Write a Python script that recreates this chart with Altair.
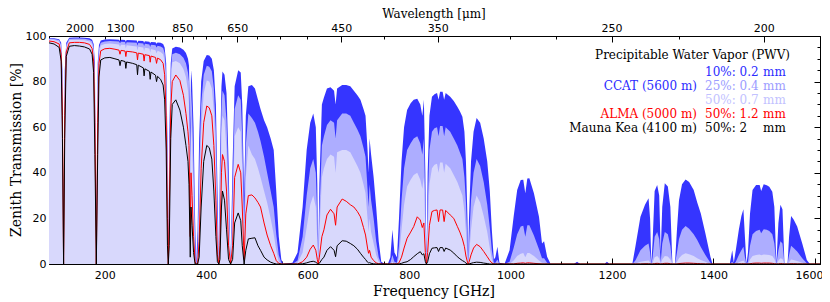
import altair as alt
import pandas as pd

# ---------------- data ----------------
freq = [
    90, 100, 110, 114, 116.5, 118.75, 121, 124, 130, 140, 150, 160, 170, 175, 178, 180.5, 183.3, 186, 188.5, 192,
    200, 210, 220, 228, 230, 232, 240, 241.5, 243, 255, 263, 264.5, 266, 276, 277.5, 279, 288, 289.5, 291, 300,
    302, 304, 310, 315, 318, 321, 323.5, 325.2, 327, 330,
    333, 340, 348, 355, 360, 364, 366, 368.5, 370, 372, 375, 378, 380.2, 383, 386, 390, 395, 401, 406, 411,
    415, 419, 422, 424.8, 427, 430, 432, 436, 440, 444, 448, 452, 456, 463, 468, 471, 474.7, 478, 483, 490,
    496, 502, 507, 514, 520, 527, 533, 538, 543, 548, 552,
    570, 580, 590, 598, 605, 611, 616, 619, 620.7, 623, 628, 632, 638, 645, 652, 655, 658, 668, 676, 684,
    691, 698, 704, 710, 714, 718, 720, 722, 725, 730, 735, 740, 745, 752,
    758, 763, 767, 771, 776, 780, 785, 790, 796, 803, 809, 816, 822, 826, 829, 832, 834.1, 836.5, 840, 845,
    850, 855, 858, 861, 866, 869, 872, 881, 888, 895, 900, 905, 909, 912, 915, 916.2, 918, 922, 927, 933,
    940, 947, 954, 959, 963, 967, 970, 974, 978, 988,
    998, 1006, 1013, 1020, 1025, 1029, 1033, 1037, 1046, 1056, 1062, 1066, 1072, 1079, 1125, 1131, 1137, 1185, 1190, 1195,
    1240,
    1246, 1256, 1265, 1272, 1275, 1277.5, 1280, 1284, 1289, 1293, 1296, 1299, 1304, 1310, 1315, 1319, 1324, 1328, 1332, 1338,
    1345, 1352, 1361, 1368, 1375, 1384, 1394, 1398, 1432,
    1437, 1440, 1444, 1450, 1455, 1459, 1462, 1465, 1468, 1472, 1477, 1484, 1491, 1494, 1499, 1505, 1510, 1516, 1520, 1524,
    1528, 1532, 1536, 1540, 1546, 1549, 1553, 1558, 1565, 1575, 1584, 1590, 1610,
]

pwv02 = [
    99.0, 99.0, 98.6, 97.0, 85, 0, 85, 97, 99.2, 99.3, 99.3, 99.2, 99.0, 98.4, 96.5, 88, 0, 88, 96, 98.0,
    98.5, 98.6, 98.5, 98.4, 97.8, 98.4, 98.3, 97.5, 98.2, 98.1, 98.0, 97.0, 97.9, 97.8, 97.0, 97.7, 97.5, 96.8, 97.4, 97.3,
    96.6, 97.2, 97.0, 96.5, 95.0, 88, 55, 0, 55, 88,
    94.5, 95.3, 95.0, 94.0, 92.5, 90.0, 87, 60, 85, 80, 60, 20, 0, 15, 55, 80, 89, 91.7, 91.5, 90.0,
    85, 70, 35, 0, 45, 78, 84.4, 83, 75, 45, 0, 45, 78, 85, 84, 70, 30, 65, 78, 78.5,
    77, 72, 68, 63, 60, 55, 50, 32, 12, 2, 0,
    0.5, 5, 25, 50, 62, 66, 60, 35, 0, 35, 70, 73, 77, 77.5, 76, 70, 77, 78.5, 78.5, 78,
    76, 74, 72, 68, 65, 50, 40, 55, 48, 38, 25, 10, 1, 0,
    0, 3, 15, 5, 3, 20, 45, 60, 67.5, 70.5, 72, 72.5, 70, 65, 72, 40, 0, 40, 65, 73.4,
    74.5, 75, 72, 75.5, 75.5, 72, 75, 73.4, 71.5, 69, 67, 64.6, 58, 45, 20, 0, 20, 45, 58, 64,
    62, 55, 45, 32, 15, 2, 3, 7.6, 0.5, 0,
    6, 20.7, 32.5, 36.8, 37, 31, 37.5, 37.6, 31, 20.7, 9, 10, 3.2, 0, 0, 1, 0, 0, 1, 0,
    0,
    7.6, 20.7, 26, 28.8, 20, 0, 10, 32, 34.6, 30, 5, 25, 35.4, 34, 25, 0, 0, 15, 28, 35,
    37.1, 36, 32.5, 27, 22.2, 13.5, 3.2, 0, 0,
    6, 0.5, 6, 15, 21, 24, 12, 0, 5, 22, 32.5, 34.6, 34.6, 32, 35, 34.5, 33.9, 31.7, 25, 0,
    18, 26, 24, 0, 0, 12, 21, 19.5, 16.4, 9, 1.8, 0, 0,
]

pwv04 = [
    98.8, 98.7, 98.2, 96.0, 80, 0, 80, 96, 98.8, 98.9, 98.9, 98.8, 98.4, 97.6, 95.0, 83, 0, 83, 94.5, 97.0,
    97.6, 97.8, 97.7, 97.6, 96.8, 97.5, 97.4, 96.3, 97.3, 97.1, 97.0, 95.7, 96.9, 96.7, 95.6, 96.6, 96.3, 95.2, 96.2, 95.9,
    95.0, 95.7, 95.4, 94.7, 92.5, 83, 45, 0, 45, 84,
    92.0, 92.6, 92.0, 90.5, 88.0, 84.0, 80, 45, 76, 68, 45, 8, 0, 5, 40, 70, 83, 87.0, 86.5, 84.5,
    77, 58, 22, 0, 32, 68, 76, 74, 63, 32, 0, 32, 68, 74, 72, 56, 18, 52, 66, 64,
    62, 58, 54, 47, 40, 32, 25, 13, 4, 0.5, 0,
    0, 1.5, 12, 30, 42, 46, 40, 20, 0, 22, 52, 56, 61, 63, 62, 55, 63, 66, 66, 65,
    62, 59, 56, 51, 47, 33, 25, 35, 28, 20, 10, 3, 0, 0,
    0, 0.5, 4, 1, 0.5, 8, 28, 42, 50, 53, 55, 56, 53, 48, 55, 25, 0, 25, 50, 58,
    59.5, 60, 56, 60.5, 60.5, 56, 60, 58, 55, 52, 49, 46, 38, 27, 9, 0, 9, 28, 40, 46,
    43, 36, 26, 16, 6, 0.5, 0.5, 2, 0, 0,
    1, 7, 13, 16.5, 16.8, 12, 17, 17, 12.5, 6.5, 2.5, 2.5, 0.5, 0, 0, 0, 0, 0, 0, 0,
    0,
    1.5, 6, 8, 9, 5, 0, 3, 12, 14, 11, 1, 9, 14, 13, 8, 0, 0, 5, 11, 15,
    16.7, 15.5, 13, 10.5, 7.5, 4, 0.5, 0, 0,
    1, 0, 1, 4, 6, 7.6, 3, 0, 1, 8, 13, 14.5, 15, 13.5, 15.2, 15, 14.5, 13, 9, 0,
    6, 10, 9, 0, 0, 4, 8, 7, 5.5, 2.5, 0.3, 0, 0,
]

pwv07 = [
    98.5, 98.3, 97.6, 94.5, 75, 0, 75, 95, 98.2, 98.3, 98.3, 98.1, 97.6, 96.5, 93.0, 75, 0, 75, 92, 95.8,
    96.5, 96.7, 96.5, 96.3, 95.3, 96.2, 96.0, 94.5, 95.9, 95.6, 95.4, 93.6, 95.3, 95.0, 93.3, 94.9, 94.5, 92.8, 94.3, 93.8,
    92.3, 93.5, 93.0, 92.0, 89.0, 76, 35, 0, 35, 78,
    88.5, 89.0, 88.0, 85.5, 82.0, 76.0, 70, 30, 64, 54, 30, 2, 0, 1, 25, 58, 75, 80.5, 80.0, 77.0,
    67, 45, 12, 0, 20, 57, 65, 63, 50, 20, 0, 20, 56, 60, 58, 42, 8, 38, 52, 48,
    46, 42, 38, 32, 27, 20, 13, 6, 1, 0, 0,
    0, 0.5, 5, 16, 26, 30, 25, 10, 0, 12, 38, 42, 46, 48, 47, 40, 49, 50, 50, 49,
    46, 43, 40, 35, 31, 20, 14, 20, 14, 9, 4, 1, 0, 0,
    0, 0, 1, 0, 0, 3, 15, 26, 34, 37, 39, 40, 37, 33, 38, 14, 0, 14, 35, 42,
    43.5, 44, 40, 44.5, 44.5, 40, 44, 42, 39, 36, 33, 30, 23, 14, 3, 0, 3, 15, 25, 30,
    27, 21, 14, 7, 2, 0, 0, 0.5, 0, 0,
    0, 1.5, 3.5, 4.5, 4.8, 3, 4.8, 4.8, 3.5, 1.5, 0.5, 0.5, 0, 0, 0, 0, 0, 0, 0, 0,
    0,
    0.2, 1, 1.3, 1.5, 0.8, 0, 0.5, 3, 3.5, 2.5, 0, 2, 3.5, 3.3, 2, 0, 0, 1, 2.5, 4,
    4.7, 4.3, 3.5, 2.5, 1.8, 1, 0, 0, 0,
    0, 0, 0, 0.8, 1.2, 1.5, 0.5, 0, 0, 2, 3.5, 4, 4.2, 3.8, 4.2, 4.1, 4, 3.5, 2.2, 0,
    1.5, 2.5, 2.2, 0, 0, 0.8, 2, 1.7, 1.3, 0.5, 0, 0, 0,
]

pwv12 = [
    97.8, 97.5, 96.5, 92.0, 65, 0, 65, 93, 97.0, 97.2, 97.2, 97.0, 96.3, 94.5, 89.0, 62, 0, 62, 88, 93.5,
    94.4, 94.6, 94.2, 93.8, 92.0, 93.7, 93.4, 91.0, 93.3, 93.0, 92.6, 89.5, 92.5, 92.0, 89.0, 91.8, 91.4, 88.5, 91.2, 90.6,
    88.0, 90.3, 89.6, 88.0, 83.0, 65, 20, 0, 20, 68,
    80.0, 82.9, 80.5, 74.0, 66.0, 58.0, 52, 12, 40, 30, 12, 1, 0, 0, 10, 42, 62, 69.3, 68.5, 65.0,
    52, 28, 4, 0, 8, 40, 48, 45, 32, 8, 0, 8, 38, 43.7, 40, 25, 2, 22, 30, 30.3,
    29, 27, 25, 18, 12.7, 8, 4.7, 1.5, 0.3, 0, 0,
    0, 0, 1, 3, 6.5, 8.3, 6, 2, 0, 3, 12, 15, 21.5, 24, 22, 17, 25, 28.5, 27.5, 26,
    25, 23, 20.7, 16, 12.7, 7, 4.7, 6, 3, 1.5, 0.5, 0.1, 0, 0,
    0, 0, 0, 0, 0, 0.5, 3, 7, 11.3, 14, 16.4, 20.7, 19.3, 16, 18, 5, 0, 5, 17, 23,
    23.5, 23.7, 18.6, 23.7, 23.7, 18.6, 23.5, 21.5, 20, 16.5, 14, 11, 7.6, 3.5, 0.8, 0, 0.8, 4, 7, 8.6,
    7.6, 5.5, 3.2, 1.5, 0.5, 0, 0, 0, 0, 0,
    0, 0, 0.3, 0.4, 0.5, 0.3, 0.5, 0.5, 0.3, 0.1, 0, 0, 0, 0, 0, 0, 0, 0, 0, 0,
    0,
    0, 0, 0.1, 0.1, 0, 0, 0, 0.2, 0.3, 0.2, 0, 0.1, 0.3, 0.3, 0.1, 0, 0, 0, 0.2, 0.3,
    0.4, 0.4, 0.3, 0.2, 0.1, 0, 0, 0, 0,
    0, 0, 0, 0, 0, 0.1, 0, 0, 0, 0.1, 0.3, 0.4, 0.4, 0.3, 0.4, 0.4, 0.4, 0.3, 0.1, 0,
    0, 0.2, 0.1, 0, 0, 0, 0.1, 0.1, 0, 0, 0, 0, 0,
]

pwv20 = [
    97.0, 96.5, 95.0, 89.0, 55, 0, 55, 91, 95.5, 95.8, 95.6, 95.2, 94.3, 92.0, 84.0, 48, 0, 48, 82, 89.5,
    90.4, 90.6, 90.0, 89.5, 87.0, 89.3, 88.8, 85.8, 88.6, 88.0, 87.4, 83.0, 87.2, 86.0, 82.5, 85.6, 84.5, 81.0, 84.2, 82.8,
    80.0, 82.3, 81.0, 78.5, 72.0, 50, 8, 0, 8, 55,
    70.0, 72.0, 67.5, 60.0, 52.0, 45.0, 35, 3, 25, 17, 5, 0, 0, 0, 3, 25, 45, 52.0, 51.0, 46.0,
    32, 12, 1, 0, 2, 25, 32, 28, 15, 2, 0, 2, 18, 22.4, 19, 8, 0, 6, 11, 11.3,
    11.5, 8, 6, 3, 1.8, 0.8, 0.3, 0, 0, 0, 0,
    0, 0, 0.1, 0.5, 1, 1.2, 0.8, 0.2, 0, 0.3, 2, 3, 6, 7.6, 6, 3.2, 8, 10.2, 10, 9,
    8, 6.5, 4.7, 3, 2, 0.8, 0.5, 0.6, 0.3, 0.1, 0, 0, 0, 0,
    0, 0, 0, 0, 0, 0, 0.3, 0.7, 1, 2, 3.2, 4.5, 5.4, 4, 4.5, 1, 0, 1, 4.5, 6.9,
    7.1, 7.2, 5.5, 7.2, 7.2, 5.5, 7.0, 6.1, 4.8, 3.2, 2.3, 1.5, 1, 0.4, 0, 0, 0, 0.3, 0.6, 0.8,
    0.7, 0.4, 0.2, 0, 0, 0, 0, 0, 0, 0,
    0, 0, 0, 0, 0, 0, 0, 0, 0, 0, 0, 0, 0, 0, 0, 0, 0, 0, 0, 0,
    0,
    0, 0, 0, 0, 0, 0, 0, 0, 0, 0, 0, 0, 0, 0, 0, 0, 0, 0, 0, 0,
    0, 0, 0, 0, 0, 0, 0, 0, 0,
    0, 0, 0, 0, 0, 0, 0, 0, 0, 0, 0, 0, 0, 0, 0, 0, 0, 0, 0, 0,
    0, 0, 0, 0, 0, 0, 0, 0, 0, 0, 0, 0, 0,
]

# axis tick values
bottom_major = [200, 400, 600, 800, 1000, 1200, 1400, 1600]
bottom_minor = list(range(100, 1601, 50))
left_major = [0, 20, 40, 60, 80, 100]
left_minor = list(range(0, 101, 5))
top_major_um = [2000, 1300, 850, 650, 450, 350, 250, 200]
top_minor_um = [1500, 1000, 900, 800, 750, 700, 600, 550, 500, 400, 300, 275, 225]

C_UM_GHZ = 299792.458
top_major = [C_UM_GHZ / w for w in top_major_um]
top_minor = [C_UM_GHZ / w for w in top_minor_um]

df = pd.DataFrame({"f": freq, "p02": pwv02, "p04": pwv04, "p07": pwv07,
                   "p12": pwv12, "p20": pwv20})

XD = [90, 1610]
YD = [0, 100]


def ax(orient, values, size, labels=False, pad=4, expr=None, **extra):
    kw = dict(orient=orient, values=values, tickSize=size, offset=-size,
              labels=labels, domain=False, grid=False, ticks=True,
              tickColor="black", tickWidth=1, title=None)
    if labels:
        kw.update(labelFont="DejaVu Sans", labelFontSize=11, labelColor="black",
                  labelPadding=pad, labelFlush=False, labelOverlap=False,
                  labelBound=False, format="d")
    if expr:
        kw["labelExpr"] = expr
    kw.update(extra)
    return alt.Axis(**kw)


def X(axis):
    return alt.X("f:Q", scale=alt.Scale(domain=XD, nice=False, zero=False), axis=axis)


def Y(field, axis):
    return alt.Y(field + ":Q", scale=alt.Scale(domain=YD, nice=False, zero=False), axis=axis)


base = alt.Chart(df)

a02 = base.mark_area(color="#3535ff", clip=True).encode(
    x=X(ax("bottom", bottom_major, 6, True, 5,
           labelOffset={"condition": {"test": "datum.value == 1600", "value": -6}, "value": 0})),
    y=Y("p02", ax("left", left_major, 6, True, 3)))
a04 = base.mark_area(color="#adadff", clip=True).encode(
    x=X(ax("bottom", bottom_minor, 3)),
    y=Y("p04", ax("left", left_minor, 3)))
a07 = base.mark_area(color="#d8d8fc", clip=True).encode(
    x=X(ax("top", top_major, 6, True, 3, "format(299792.458/datum.value, '.0f')")),
    y=Y("p07", ax("right", left_major, 6)))
l12 = base.mark_line(color="#ff0000", strokeWidth=1, clip=True).encode(
    x=X(ax("top", top_minor, 3)),
    y=Y("p12", ax("right", left_minor, 3)))
l20 = base.mark_line(color="black", strokeWidth=1, clip=True).encode(
    x=X(None), y=Y("p20", None))


def label(s, x, y, color="black", align="left", size=12, baseline="middle", angle=0):
    return alt.Chart(pd.DataFrame({"s": [s]})).mark_text(
        align=align, baseline=baseline, font="DejaVu Serif", fontSize=size,
        color=color, angle=angle).encode(x=alt.value(x), y=alt.value(y), text="s:N")


BLUE, MID, LIGHT, RED = "#2b2bff", "#9c9cff", "#c2c2ff", "#ff0000"
texts = [
    label("Precipitable Water Vapor (PWV)", 741, 19, align="right"),
    label("10%: 0.2", 656, 36.3, BLUE), label("mm", 714, 36.3, BLUE),
    label("CCAT (5600 m)", 648, 50, BLUE, align="right"),
    label("25%: 0.4", 656, 50, MID), label("mm", 714, 50, MID),
    label("50%: 0.7", 656, 64, LIGHT), label("mm", 714, 64, LIGHT),
    label("ALMA (5000 m)", 648, 78, RED, align="right"),
    label("50%: 1.2", 656, 78, RED), label("mm", 714, 78, RED),
    label("Mauna Kea (4100 m)", 648, 92.3, align="right"),
    label("50%: 2", 656, 92.3), label("mm", 714, 92.3),
    label("Wavelength [μm]", 385, -27.5, size=12, align="center", baseline="top"),
    label("Frequency [GHz]", 385, 256, size=14, align="center"),
    label("Zenith Transmission [%]", -32, 114, size=14, align="center", angle=270),
]

chart = alt.layer(a02, a04, a07, l12, l20, *texts).resolve_scale(
    x="independent", y="independent"
).properties(
    width=771, height=228,
    autosize=alt.AutoSizeParams(type="none"),
    padding={"left": 41, "top": 28, "right": 2, "bottom": 36},
).configure_view(stroke="black", strokeWidth=1)

chart.save("out.html", embed_options={"renderer": "svg", "actions": False})
